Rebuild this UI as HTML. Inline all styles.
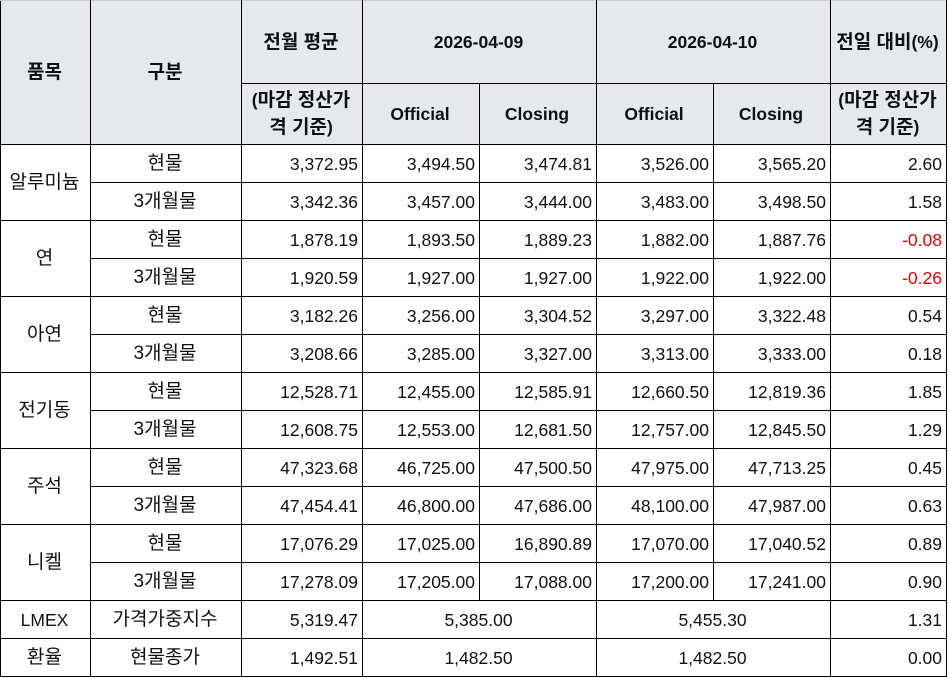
<!DOCTYPE html>
<html><head><meta charset="utf-8"><style>
body{margin:0;background:#fff;}
table{position:absolute;left:0;top:0;border-collapse:collapse;table-layout:fixed;font-family:"Liberation Sans","Noto Sans CJK KR",sans-serif;font-size:17.5px;color:#111;}
td,th{border:1px solid #000;padding:0 4px 0 2px;overflow:hidden;white-space:nowrap;line-height:20px;}
th{background:#e7e8eb;font-weight:bold;text-align:center;}
thead tr:first-child th{border-top-color:#ccc;}
th.w{white-space:normal;line-height:26px;}
td{height:37px;text-align:right;}
td.c{text-align:center;}
.k{font-size:19px;}
.r{color:#e00;}
</style></head><body>
<table>
<colgroup><col style="width:90px"><col style="width:151px"><col style="width:121px"><col style="width:117px"><col style="width:117px"><col style="width:117px"><col style="width:117px"><col style="width:116px"></colgroup>
<thead>
<tr style="height:83px"><th rowspan="2" class="k">품목</th><th rowspan="2" class="k">구분</th><th><span class="k">전월 평균</span></th><th colspan="2">2026-04-09</th><th colspan="2">2026-04-10</th><th><span class="k">전일 대비</span>(%)</th></tr>
<tr style="height:61px"><th class="w">(<span class="k">마감 정산가<br>격 기준</span>)</th><th>Official</th><th>Closing</th><th>Official</th><th>Closing</th><th class="w">(<span class="k">마감 정산가<br>격 기준</span>)</th></tr>
</thead>
<tbody>
<tr><td class="c k" rowspan="2">알루미늄</td><td class="c k">현물</td><td>3,372.95</td><td>3,494.50</td><td>3,474.81</td><td>3,526.00</td><td>3,565.20</td><td>2.60</td></tr>
<tr><td class="c k">3개월물</td><td>3,342.36</td><td>3,457.00</td><td>3,444.00</td><td>3,483.00</td><td>3,498.50</td><td>1.58</td></tr>
<tr><td class="c k" rowspan="2">연</td><td class="c k">현물</td><td>1,878.19</td><td>1,893.50</td><td>1,889.23</td><td>1,882.00</td><td>1,887.76</td><td class="r">-0.08</td></tr>
<tr><td class="c k">3개월물</td><td>1,920.59</td><td>1,927.00</td><td>1,927.00</td><td>1,922.00</td><td>1,922.00</td><td class="r">-0.26</td></tr>
<tr><td class="c k" rowspan="2">아연</td><td class="c k">현물</td><td>3,182.26</td><td>3,256.00</td><td>3,304.52</td><td>3,297.00</td><td>3,322.48</td><td>0.54</td></tr>
<tr><td class="c k">3개월물</td><td>3,208.66</td><td>3,285.00</td><td>3,327.00</td><td>3,313.00</td><td>3,333.00</td><td>0.18</td></tr>
<tr><td class="c k" rowspan="2">전기동</td><td class="c k">현물</td><td>12,528.71</td><td>12,455.00</td><td>12,585.91</td><td>12,660.50</td><td>12,819.36</td><td>1.85</td></tr>
<tr><td class="c k">3개월물</td><td>12,608.75</td><td>12,553.00</td><td>12,681.50</td><td>12,757.00</td><td>12,845.50</td><td>1.29</td></tr>
<tr><td class="c k" rowspan="2">주석</td><td class="c k">현물</td><td>47,323.68</td><td>46,725.00</td><td>47,500.50</td><td>47,975.00</td><td>47,713.25</td><td>0.45</td></tr>
<tr><td class="c k">3개월물</td><td>47,454.41</td><td>46,800.00</td><td>47,686.00</td><td>48,100.00</td><td>47,987.00</td><td>0.63</td></tr>
<tr><td class="c k" rowspan="2">니켈</td><td class="c k">현물</td><td>17,076.29</td><td>17,025.00</td><td>16,890.89</td><td>17,070.00</td><td>17,040.52</td><td>0.89</td></tr>
<tr><td class="c k">3개월물</td><td>17,278.09</td><td>17,205.00</td><td>17,088.00</td><td>17,200.00</td><td>17,241.00</td><td>0.90</td></tr>
<tr><td class="c">LMEX</td><td class="c k">가격가중지수</td><td>5,319.47</td><td class="c" colspan="2">5,385.00</td><td class="c" colspan="2">5,455.30</td><td>1.31</td></tr>
<tr><td class="c k">환율</td><td class="c k">현물종가</td><td>1,492.51</td><td class="c" colspan="2">1,482.50</td><td class="c" colspan="2">1,482.50</td><td>0.00</td></tr>
</tbody></table>
</body></html>
